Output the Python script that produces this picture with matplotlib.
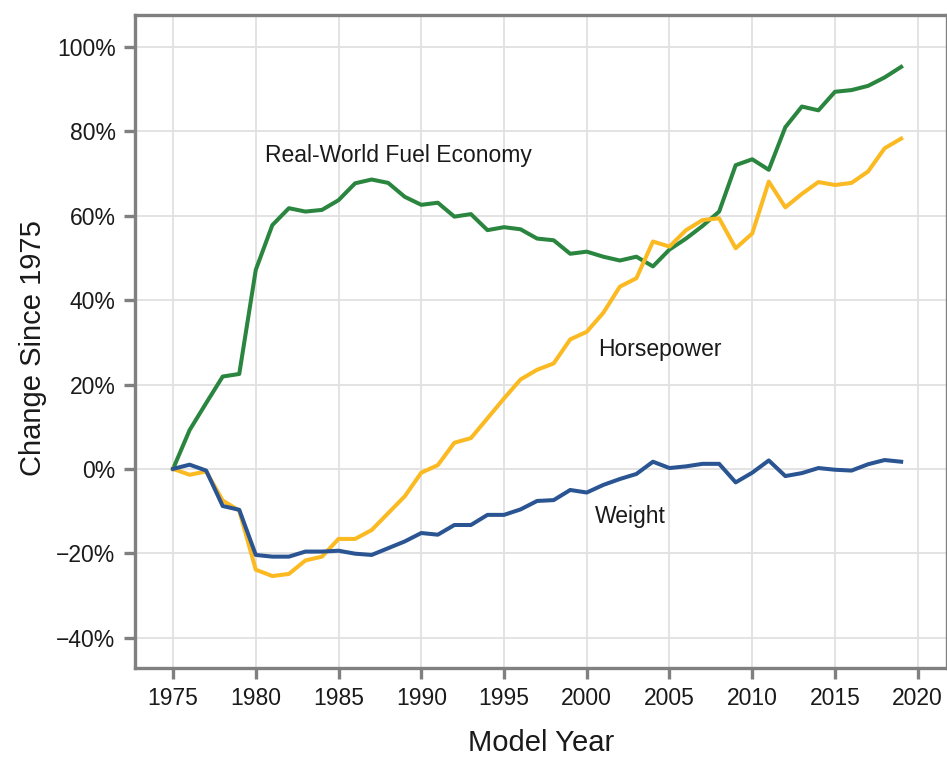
import numpy as np
import matplotlib.pyplot as plt
from matplotlib.ticker import PercentFormatter

plt.rcParams['font.family'] = ['Liberation Sans', 'DejaVu Sans']

# 数据 (相对 1975 的变化, %)
years = list(range(1975, 2020))
fuel_economy = [0, 9.2, 15.6, 21.9, 22.5, 47.2, 57.8, 61.8, 61.0, 61.4,
                63.7, 67.7, 68.6, 67.8, 64.5, 62.6, 63.1, 59.8, 60.4, 56.6,
                57.3, 56.8, 54.6, 54.2, 51.0, 51.5, 50.3, 49.4, 50.3, 48.0,
                52.0, 54.6, 57.6, 61.0, 72.0, 73.4, 70.9, 81.0, 85.9, 85.0,
                89.4, 89.8, 90.8, 92.8, 95.3]
horsepower = [0, -1.4, -0.6, -7.5, -9.9, -23.9, -25.4, -24.9, -21.7, -20.8,
              -16.6, -16.6, -14.5, -10.5, -6.5, -0.9, 0.9, 6.2, 7.3, 12.0,
              16.7, 21.2, 23.5, 25.0, 30.7, 32.5, 37.0, 43.2, 45.2, 53.9,
              52.7, 56.6, 59.0, 59.4, 52.3, 55.8, 68.1, 62.0, 65.2, 68.0,
              67.3, 67.8, 70.5, 76.0, 78.3]
weight = [0, 1.0, -0.4, -8.8, -9.7, -20.4, -20.8, -20.8, -19.6, -19.6,
          -19.4, -20.1, -20.4, -18.8, -17.2, -15.2, -15.6, -13.3, -13.3, -10.9,
          -10.9, -9.6, -7.6, -7.4, -5.0, -5.6, -3.8, -2.4, -1.2, 1.7,
          0.2, 0.6, 1.2, 1.2, -3.2, -0.9, 2.0, -1.7, -1.0, 0.2,
          -0.2, -0.4, 1.1, 2.1, 1.7]

series = [
    ('Real-World Fuel Economy', fuel_economy, '#2a853f', (1980.55, 74.4)),
    ('Horsepower', horsepower, '#fbb922', (2000.7, 28.2)),
    ('Weight', weight, '#2a5592', (2000.5, -11.4)),
]

fig = plt.figure(figsize=(9.47, 7.71), dpi=100)
ax = fig.add_axes([135 / 947, 103 / 771, 812 / 947, 653 / 771])

for name, vals, color, (tx, ty) in series:
    ax.plot(years, vals, color=color, linewidth=2.9, solid_joinstyle='round')
    ax.text(tx, ty, name, fontsize=16.5, color='#1a1a1a', va='center', ha='left')

ax.set_xlim(1972.7, 2021.77)
ax.set_ylim(-47.2, 107.6)
ax.set_xticks(range(1975, 2021, 5))
ax.set_yticks(range(-40, 101, 20))
ax.yaxis.set_major_formatter(PercentFormatter(decimals=0))

# 网格与边框
ax.grid(True, color='#e0e0e0', linewidth=1.3)
ax.set_axisbelow(True)
for sp in ax.spines.values():
    sp.set_color('#808080')
    sp.set_linewidth(2.4)
ax.tick_params(axis='both', length=8, width=2.4, color='#808080',
               labelsize=16.5, labelcolor='#1a1a1a', pad=6)

ax.set_xlabel('Model Year', fontsize=21, color='#1a1a1a')
ax.set_ylabel('Change Since 1975', fontsize=21, color='#1a1a1a')
ax.xaxis.set_label_coords(0.5, -0.093)
ax.yaxis.set_label_coords(-0.108, 0.49)

fig.savefig('out.png', dpi=100)
